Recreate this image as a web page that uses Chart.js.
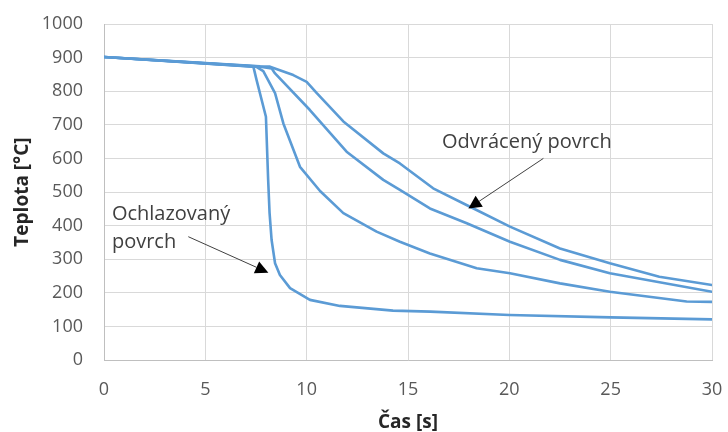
<!DOCTYPE html>
<html>
<head>
<meta charset="utf-8">
<script src="https://cdn.jsdelivr.net/npm/chart.js@4"></script>
<style>
  html, body { margin: 0; padding: 0; background: #ffffff; }
  #wrap { width: 728px; height: 432px; }
</style>
</head>
<body>
<div id="wrap"><canvas id="c" width="728" height="432"></canvas></div>
<script>
// ---- data (time in s, temperature in °C) ----
const xTicks = [0, 5, 10, 15, 20, 25, 30];
const yTicks = [0, 100, 200, 300, 400, 500, 600, 700, 800, 900, 1000];

// cooled surface (fastest drop)
const t1 = [0, 7.37, 7.53, 7.99, 8.1, 8.17, 8.27, 8.44, 8.68, 9.18, 10.16, 11.64, 14.26, 16.1, 20, 25, 30];
const T1 = [902, 873, 833, 724, 536, 437, 357, 288, 253, 214, 179, 161, 147, 144, 134, 127, 121];

const t2 = [0, 7.5, 7.86, 8.44, 8.85, 9.67, 10.66, 11.81, 13.45, 14.6, 16.08, 18.39, 20.03, 22.5, 24.96, 28.75, 30];
const T2 = [902, 873, 860, 794, 704, 575, 503, 437, 382, 352, 317, 273, 258, 228, 203, 174, 173];

const t3 = [0, 7.7, 8.27, 8.44, 10.16, 11.97, 13.78, 14.6, 16.08, 17.9, 20.03, 22.5, 24.96, 30];
const T3 = [902, 873, 868, 853, 744, 620, 536, 506, 451, 407, 352, 298, 258, 203];

// far (unexposed) surface
const t4 = [0, 7.7, 8.19, 9.34, 10.0, 10.5, 11.81, 13.78, 14.6, 16.24, 18.06, 20.03, 22.5, 24.96, 27.4, 30];
const T4 = [902, 874, 873, 848, 828, 794, 710, 615, 585, 511, 456, 397, 332, 288, 248, 223];

// annotations (anchored in data coordinates)
const labelTexts = [
  { text: "Ochlazovaný", x: 0.39, y: 417 },
  { text: "povrch", x: 0.39, y: 333 },
  { text: "Odvrácený povrch", x: 16.68, y: 631 }
];
const arrows = [
  { from: [4.16, 367], to: [8.11, 260] },
  { from: [21.68, 600], to: [17.98, 451] }
];

const LINE = '#5b9bd5';
function pts(t, T) { return t.map((v, i) => ({ x: v, y: T[i] })); }
function ds(t, T) {
  return { data: pts(t, T), borderColor: LINE, borderWidth: 2.6, pointRadius: 0, tension: 0, fill: false, borderJoinStyle: 'round', borderCapStyle: 'round' };
}

const annot = {
  id: 'annot',
  afterDatasetsDraw(chart) {
    const ctx = chart.ctx, xs = chart.scales.x, ys = chart.scales.y;
    ctx.save();
    ctx.fillStyle = '#404040';
    ctx.font = '20px "Open Sans"';
    ctx.textAlign = 'left';
    ctx.textBaseline = 'alphabetic';
    labelTexts.forEach(l => ctx.fillText(l.text, xs.getPixelForValue(l.x), ys.getPixelForValue(l.y)));
    arrows.forEach(a => {
      const x0 = xs.getPixelForValue(a.from[0]), y0 = ys.getPixelForValue(a.from[1]);
      const x1 = xs.getPixelForValue(a.to[0]), y1 = ys.getPixelForValue(a.to[1]);
      const ang = Math.atan2(y1 - y0, x1 - x0);
      const L = 13, W = 6.5;
      const bx = x1 - L * Math.cos(ang), by = y1 - L * Math.sin(ang);
      ctx.strokeStyle = '#404040';
      ctx.lineWidth = 1;
      ctx.beginPath(); ctx.moveTo(x0, y0); ctx.lineTo(bx, by); ctx.stroke();
      ctx.fillStyle = '#000000';
      ctx.beginPath();
      ctx.moveTo(x1, y1);
      ctx.lineTo(bx + W * Math.sin(ang), by - W * Math.cos(ang));
      ctx.lineTo(bx - W * Math.sin(ang), by + W * Math.cos(ang));
      ctx.closePath(); ctx.fill();
    });
    ctx.restore();
  }
};

new Chart(document.getElementById('c'), {
  type: 'line',
  data: { datasets: [ds(t1, T1), ds(t2, T2), ds(t3, T3), ds(t4, T4)] },
  options: {
    responsive: false,
    devicePixelRatio: 1,
    animation: false,
    layout: { padding: { top: 24, right: 16, left: 0, bottom: 0 } },
    plugins: { legend: { display: false }, tooltip: { enabled: false } },
    scales: {
      x: {
        type: 'linear', min: 0, max: 30,
        afterBuildTicks: s => { s.ticks = xTicks.map(v => ({ value: v })); },
        afterFit: s => { s.height = 72; s.paddingLeft = 0; s.paddingRight = 0; },
        ticks: { font: { family: 'Open Sans', size: 18 }, color: '#595959', padding: 19, maxRotation: 0, callback: v => String(v) },
        grid: { color: '#d9d9d9', lineWidth: 1, drawTicks: false },
        border: { color: '#bfbfbf', width: 1 },
        title: { display: true, text: 'Čas [s]', color: '#262626', font: { family: 'Open Sans', size: 19, weight: 'bold', lineHeight: 1 }, padding: { top: 0, bottom: 0 } }
      },
      y: {
        min: 0, max: 1000,
        afterBuildTicks: s => { s.ticks = yTicks.map(v => ({ value: v })); },
        afterFit: s => { s.width = 104; s.paddingTop = 0; s.paddingBottom = 0; },
        ticks: { font: { family: 'Open Sans', size: 18 }, color: '#595959', padding: 21, callback: v => String(v) },
        grid: { color: '#d9d9d9', lineWidth: 1, drawTicks: false },
        border: { color: '#bfbfbf', width: 1 },
        title: { display: true, text: 'Teplota [°C]', color: '#262626', font: { family: 'Open Sans', size: 19, weight: 'bold', lineHeight: 1 }, padding: { top: 13.5, bottom: 0 } }
      }
    }
  },
  plugins: [annot]
});
</script>
</body>
</html>
